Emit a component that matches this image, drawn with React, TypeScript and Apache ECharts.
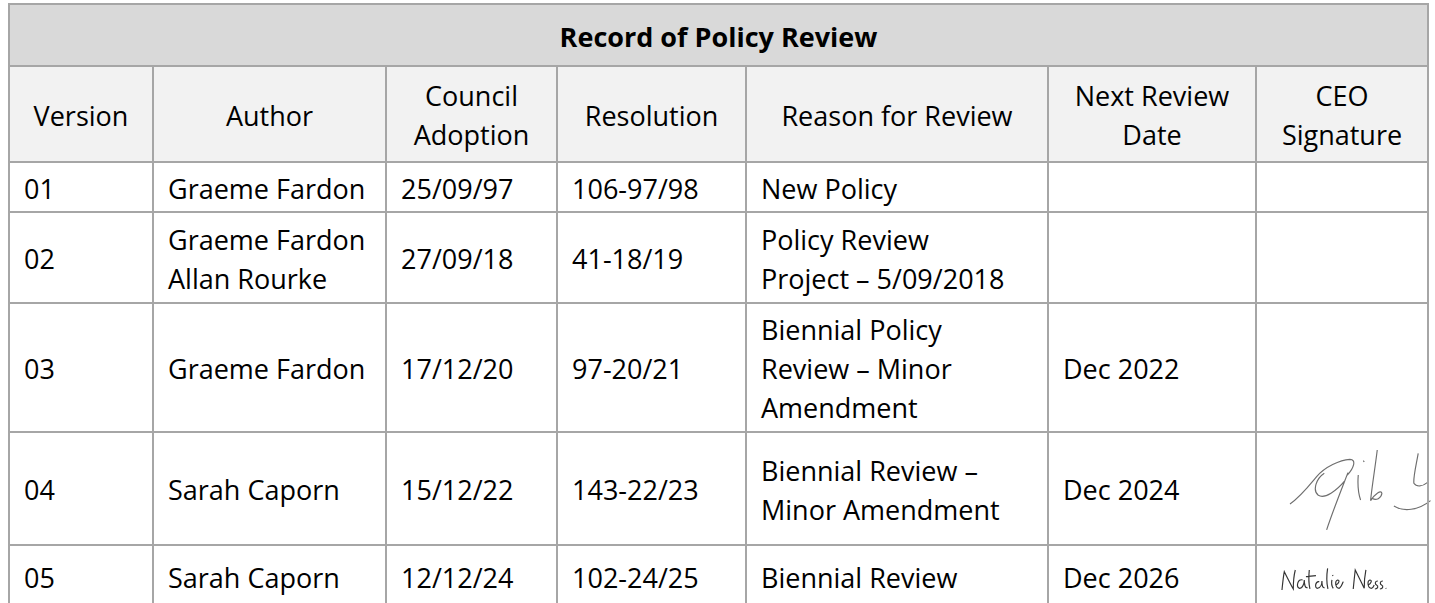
import React, { useEffect, useRef } from "react";
import * as echarts from "echarts";

// ---- data ----
const titleText = "Record of Policy Review";
const headers = [
  "Version",
  "Author",
  "Council\nAdoption",
  "Resolution",
  "Reason for Review",
  "Next Review\nDate",
  "CEO\nSignature",
];
const versions = ["01", "02", "03", "04", "05"];
const authors = [
  "Graeme Fardon",
  "Graeme Fardon\nAllan Rourke",
  "Graeme Fardon",
  "Sarah Caporn",
  "Sarah Caporn",
];
const adoptions = ["25/09/97", "27/09/18", "17/12/20", "15/12/22", "12/12/24"];
const resolutions = ["106-97/98", "41-18/19", "97-20/21", "143-22/23", "102-24/25"];
const reasons = [
  "New Policy",
  "Policy Review\nProject – 5/09/2018",
  "Biennial Policy\nReview – Minor\nAmendment",
  "Biennial Review –\nMinor Amendment",
  "Biennial Review",
];
const nextReviews = ["", "", "Dec 2022", "Dec 2024", "Dec 2026"];

// ---- layout ----
const colX = [9, 153, 386, 557, 746, 1048, 1256, 1428];
const rowY = [4, 66, 162, 212, 303, 432, 545, 607];
const PAGE_BOTTOM = 603;
const FONT = '"Open Sans", "Noto Sans", sans-serif';
const FS = 27;
const LH = 39;
const BORDER = "#a6a6a6";

const sig1 =
  "M0,192 C30,172 55,140 80,110 C105,80 150,60 180,58 C200,58 192,85 172,105 " +
  "M174,98 C150,160 128,215 110,270 " +
  "M103,100 C80,115 66,150 85,166 C105,178 140,152 165,122 " +
  "M205,105 C203,130 205,160 212,180 M220,62 L223,66 " +
  "M262,30 C256,80 246,140 242,182 C255,162 274,148 276,160 C274,176 258,182 248,176 " +
  "M385,40 C378,80 370,110 372,130 C380,142 398,140 412,128 " +
  "M312,198 C340,216 385,212 422,182";

const sig2 =
  "M78,105 C80,85 82,65 85,50 C95,70 105,90 112,102 C112,80 114,60 118,45 " +
  "M140,75 C125,70 120,95 130,100 C140,100 145,85 145,75 C145,90 148,100 155,98 " +
  "M160,45 C158,65 158,85 162,102 M150,65 L180,62 " +
  "M190,80 C178,78 175,100 185,100 C195,98 198,85 198,78 C198,92 200,100 206,98 " +
  "M215,40 C212,60 212,85 216,102 " +
  "M228,75 C226,85 228,95 232,100 M230,60 L231,63 " +
  "M240,90 C250,85 252,75 245,75 C236,78 238,100 250,100 C255,98 258,90 262,80 " +
  "M292,102 C294,82 296,62 298,45 C308,65 318,85 325,100 C325,80 327,60 330,45 " +
  "M337,90 C347,85 349,75 342,75 C333,78 335,100 347,100 C351,99 353,95 355,90 " +
  "M366,78 C356,78 357,88 362,90 C368,93 367,101 357,102 " +
  "M381,78 C371,78 372,88 377,90 C383,93 382,101 372,102 " +
  "M390,99 L391,101";

echarts.graphic.registerShape("sigA", echarts.graphic.extendPath(sig1, {}) as any);
echarts.graphic.registerShape("sigB", echarts.graphic.extendPath(sig2, {}) as any);

function buildElements() {
  const els: any[] = [];
  const left = colX[0];
  const right = colX[colX.length - 1];
  // backgrounds
  els.push({ type: "rect", shape: { x: left, y: rowY[0], width: right - left, height: rowY[1] - rowY[0] }, style: { fill: "#d9d9d9" } });
  els.push({ type: "rect", shape: { x: left, y: rowY[1], width: right - left, height: rowY[2] - rowY[1] }, style: { fill: "#f2f2f2" } });
  // title
  els.push({
    type: "text",
    style: {
      text: titleText, x: (left + right) / 2, y: (rowY[0] + rowY[1]) / 2 + 1,
      align: "center", verticalAlign: "middle", fontFamily: FONT, fontSize: FS, fontWeight: "bold", fill: "#000",
    },
  });
  // headers
  headers.forEach((h, i) => {
    els.push({
      type: "text",
      style: {
        text: h, x: (colX[i] + colX[i + 1]) / 2, y: (rowY[1] + rowY[2]) / 2 + 1,
        align: "center", verticalAlign: "middle", fontFamily: FONT, fontSize: FS, lineHeight: LH, fill: "#000",
      },
    });
  });
  const cols = [versions, authors, adoptions, resolutions, reasons, nextReviews];
  cols.forEach((col, c) => {
    col.forEach((t, r) => {
      if (!t) return;
      els.push({
        type: "text",
        style: {
          text: t, x: colX[c] + 15, y: (rowY[r + 2] + rowY[r + 3]) / 2 + 1,
          align: "left", verticalAlign: "middle", fontFamily: FONT, fontSize: FS, lineHeight: LH, fill: "#000",
        },
      });
    });
  });
  // signatures
  els.push({ type: "sigA", x: 1290, y: 440, scaleX: 1 / 3, scaleY: 1 / 3, style: { stroke: "#6e6e6e", fill: null, lineWidth: 3.5 } });
  els.push({ type: "sigB", x: 1256, y: 555, scaleX: 1 / 3, scaleY: 1 / 3, style: { stroke: "#333", fill: null, lineWidth: 3.5 } });
  // borders
  const lw = 2;
  for (let i = 0; i < rowY.length - 1; i++) {
    els.push({ type: "line", shape: { x1: left - 1, y1: rowY[i], x2: right + 1, y2: rowY[i] }, style: { stroke: BORDER, lineWidth: lw } });
  }
  els.push({ type: "line", shape: { x1: left, y1: rowY[0], x2: left, y2: PAGE_BOTTOM }, style: { stroke: BORDER, lineWidth: lw } });
  els.push({ type: "line", shape: { x1: right, y1: rowY[0], x2: right, y2: PAGE_BOTTOM }, style: { stroke: BORDER, lineWidth: lw } });
  for (let i = 1; i < colX.length - 1; i++) {
    els.push({ type: "line", shape: { x1: colX[i], y1: rowY[1], x2: colX[i], y2: PAGE_BOTTOM }, style: { stroke: BORDER, lineWidth: lw } });
  }
  return els;
}

export default function App() {
  const ref = useRef<HTMLDivElement>(null);
  useEffect(() => {
    if (!ref.current) return;
    const chart = echarts.init(ref.current, undefined, { renderer: "svg" });
    chart.setOption({
      animation: false,
      backgroundColor: "#ffffff",
      graphic: { elements: buildElements() },
    });
    return () => chart.dispose();
  }, []);
  return (
    <div
      ref={ref}
      style={{ position: "fixed", left: 0, top: 0, width: 1435, height: 603, background: "#fff" }}
    />
  );
}
